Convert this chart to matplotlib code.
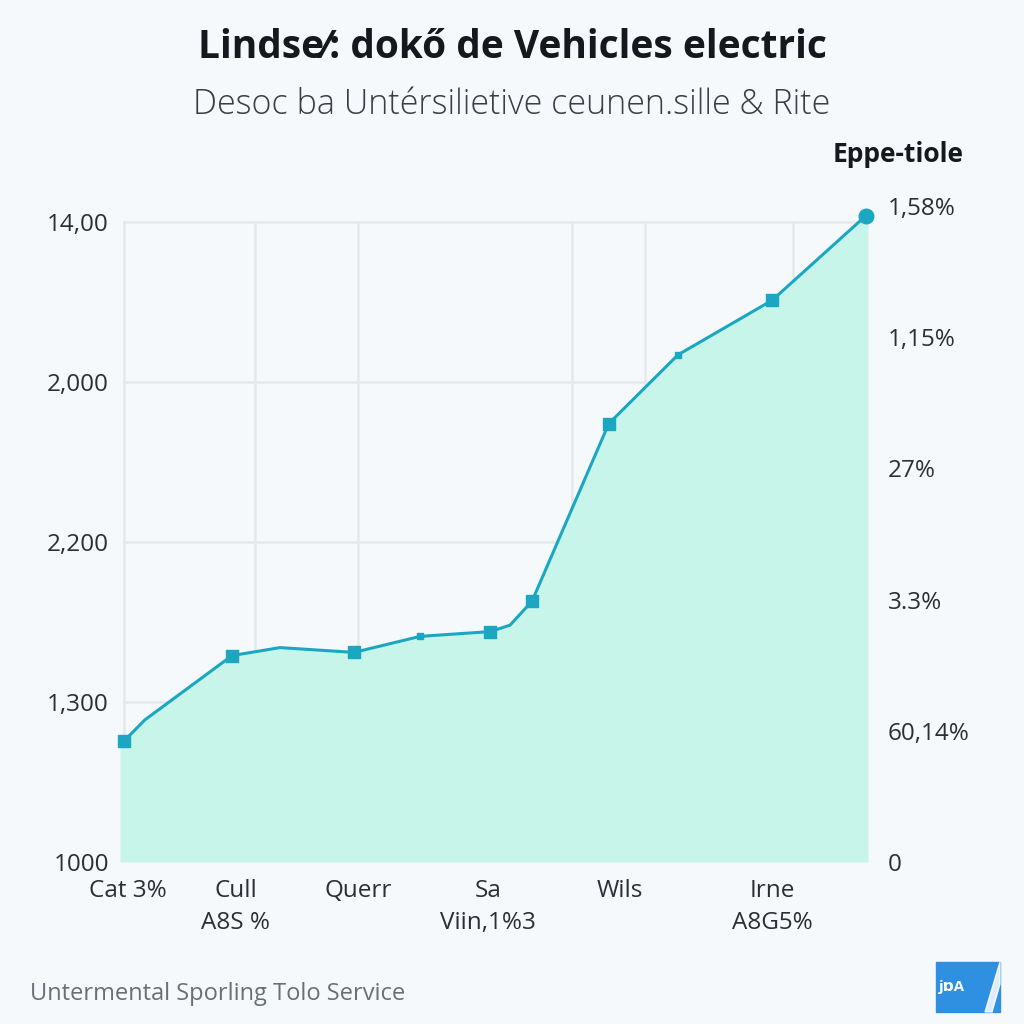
import numpy as np
import matplotlib.pyplot as plt
from matplotlib.patches import Rectangle, Polygon

# data (x in arbitrary time units, y in axis units)
x_vals = [0.0, 0.26, 1.35, 1.95, 2.875, 3.7, 4.575, 4.825, 5.1, 6.06, 6.925, 8.1, 9.275]
y_vals = [0.756, 0.888, 1.29, 1.34, 1.31, 1.41, 1.44, 1.48, 1.63, 2.74, 3.17, 3.51, 4.04]
square_idx = [0, 2, 4, 6, 8, 9, 11]
small_idx = [5, 10]

left_ticks = [0, 1, 2, 3, 4]
left_labels = ['1000', '1,300', '2,200', '2,000', '14,00']
right_labels = ['0', '60,14%', '3.3%', '27%', '1,15%', '1,58%']
x_ticks = [0.05, 1.4, 2.925, 4.55, 6.2, 8.1]
x_labels = ['Cat 3%', 'Cull\nA8S %', 'Querr', 'Sa\nViin,1%3', 'Wils', 'Irne\nA8G5%']
v_grid = [1.64, 2.925, 5.6, 6.51, 8.36]

title = 'Lindse⁄: dokő de Vehicles electric'
subtitle = 'Desoc ba Untérsilietive ceunen.sille & Rite'
right_title = 'Eppe-tiole'
footer = 'Untermental Sporling Tolo Service'

bg = '#f6f9fc'
line_c = '#1ba7c2'
fill_c = '#c7f5e9'
grid_c = '#e6e9ec'
text_c = '#2b2f33'

plt.rcParams['font.family'] = ['Open Sans', 'DejaVu Sans']

fig = plt.figure(figsize=(10.24, 10.24), dpi=100, facecolor=bg)
ax = fig.add_axes([120/1024, 162/1024, 748/1024, 656/1024])
ax.set_facecolor(bg)
ax.set_xlim(-0.05, 9.3)
ax.set_ylim(0, 4.1)

for v in v_grid:
    ax.plot([v, v], [0, 4], color=grid_c, lw=1.8, zorder=0)
for h in [1, 2, 3, 4]:
    ax.plot([0, 9.3], [h, h], color=grid_c, lw=1.8, zorder=0)
ax.plot([0, 0], [0, 4], color=grid_c, lw=1.8, zorder=0)

xf = [-0.05] + x_vals + [9.3]
yf = [y_vals[0]] + y_vals + [y_vals[-1]]
ax.fill_between(xf, 0, yf, color=fill_c, lw=0, zorder=1)
ax.plot(x_vals, y_vals, color=line_c, lw=2.2, zorder=3)
ax.scatter([x_vals[i] for i in square_idx], [y_vals[i] for i in square_idx],
           marker='s', s=70, color=line_c, zorder=4, clip_on=False)
ax.scatter([x_vals[i] for i in small_idx], [y_vals[i] for i in small_idx],
           marker='s', s=25, color=line_c, zorder=4)
ax.scatter([x_vals[-1]], [y_vals[-1]], marker='o', s=110, color=line_c, zorder=5, clip_on=False)

for s in ax.spines.values():
    s.set_visible(False)
ax.set_yticks(left_ticks)
ax.set_yticklabels(left_labels, fontsize=17.5, color=text_c)
ax.tick_params(axis='y', length=0, pad=8)
ax.set_xticks(x_ticks)
ax.set_xticklabels(x_labels, fontsize=17.5, color=text_c, linespacing=1.45)
ax.tick_params(axis='x', length=0, pad=12)

ax2 = ax.twinx()
ax2.set_ylim(0, 4.1)
ax2.set_yticks(np.linspace(0, 4.14, 6))
ax2.set_yticklabels(right_labels, fontsize=17.5, color=text_c)
ax2.tick_params(axis='y', length=0, pad=14)
for s in ax2.spines.values():
    s.set_visible(False)

fig.text(0.5, 1 - 47/1024, title, ha='center', va='center', fontsize=28,
         fontweight='bold', color='#15181c')
fig.text(0.5, 1 - 105/1024, subtitle, ha='center', va='center', fontsize=24.5,
         fontweight='light', color='#3a3e44')
fig.text(898/1024, 1 - 155/1024, right_title, ha='center', va='center', fontsize=19,
         fontweight='bold', color='#15181c')
fig.text(30/1024, 1 - 994/1024, footer, ha='left', va='center', fontsize=17,
         color='#6a6f75')

fig.patches.append(Rectangle((936/1024, 12/1024), 64/1024, 50/1024,
                             transform=fig.transFigure, color='#2f8fe0'))
fig.patches.append(Polygon([(985/1024, 12/1024), (992/1024, 12/1024),
                            (1000/1024, 40/1024), (1000/1024, 62/1024)],
                           closed=True, transform=fig.transFigure, color='white', alpha=0.85))
fig.text(952/1024, 37/1024, 'jɒA', ha='center', va='center', fontsize=11,
         fontweight='bold', color='white')

fig.savefig('out.png', dpi=100, facecolor=bg)
